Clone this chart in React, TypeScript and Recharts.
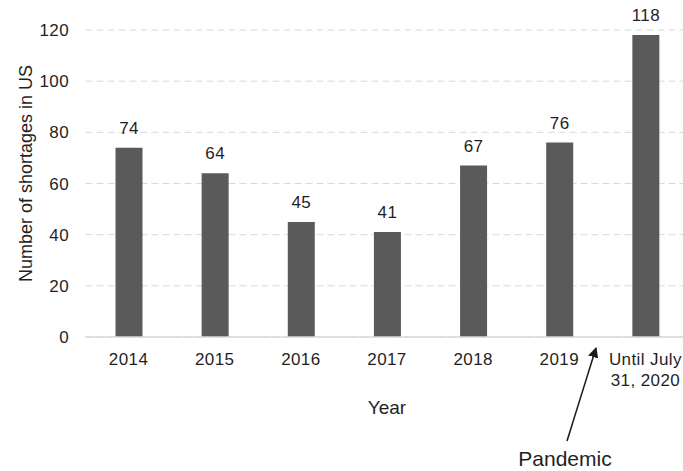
import { Bar, BarChart, CartesianGrid, LabelList, XAxis, YAxis, Label } from "recharts";

const years = ["2014", "2015", "2016", "2017", "2018", "2019", "Until July 31, 2020"];
const shortages = [74, 64, 45, 41, 67, 76, 118];
const yTicks = [0, 20, 40, 60, 80, 100, 120];

const data = years.map((year, i) => ({ year, shortages: shortages[i] }));

const FONT = "'Liberation Sans', Arial, sans-serif";
const TEXT = "#1f1f1f";

function YearTick({ x, y, payload }: any) {
  const value: string = payload.value;
  const cut = value.includes(",") ? value.lastIndexOf(" ", value.indexOf(",")) : -1;
  const lines = cut > 0 ? [value.slice(0, cut), value.slice(cut + 1)] : [value];
  return (
    <text x={x} y={y + 12} textAnchor="middle" fontFamily={FONT} fontSize={17} letterSpacing={0.4} fill={TEXT}>
      {lines.map((line, i) => (
        <tspan key={i} x={x} dy={i === 0 ? 0 : 21}>
          {line}
        </tspan>
      ))}
    </text>
  );
}

function YTitle({ viewBox }: any) {
  const cx = viewBox.x + 32;
  const cy = viewBox.y + viewBox.height / 2 - 10;
  return (
    <text
      x={cx}
      y={cy}
      transform={`rotate(-90, ${cx}, ${cy})`}
      textAnchor="middle"
      fontFamily={FONT}
      fontSize={18}
      fill={TEXT}
    >
      Number of shortages in US
    </text>
  );
}

export default function App() {
  return (
    <div style={{ position: "absolute", left: 0, top: 0, width: 683, height: 471, overflow: "hidden", background: "#fff" }}>
      <BarChart
        width={700}
        height={471}
        data={data}
        margin={{ top: 30, right: 11.5, bottom: 0, left: 0 }}
        barSize={27}
      >
        <CartesianGrid vertical={false} stroke="#d9d9d9" strokeDasharray="7 4" />
        <XAxis
          dataKey="year"
          height={134}
          axisLine={{ stroke: "#d9d9d9", strokeWidth: 1.5 }}
          tickLine={false}
          tickSize={0}
          tickMargin={16}
          tick={<YearTick />}
          interval={0}
        >
          <Label value="Year" position="insideTop" offset={64} fontFamily={FONT} fontSize={19} fill={TEXT} />
        </XAxis>
        <YAxis
          width={85.5}
          domain={[0, 120]}
          ticks={yTicks}
          axisLine={false}
          tickLine={false}
          tickSize={0}
          tickMargin={16.5}
          tick={{ fontFamily: FONT, fontSize: 17, fill: TEXT, letterSpacing: 0.4 }}
        >
          <Label content={<YTitle />} />
        </YAxis>
        <Bar dataKey="shortages" fill="#5a5a5a" isAnimationActive={false}>
          <LabelList dataKey="shortages" position="top" offset={14} fontFamily={FONT} fontSize={17} letterSpacing={0.4} fill={TEXT} />
        </Bar>
      </BarChart>
      <svg width={683} height={471} style={{ position: "absolute", left: 0, top: 0, pointerEvents: "none" }}>
        <defs>
          <marker id="arrow" viewBox="0 0 10 10" refX="9" refY="5" markerWidth="7" markerHeight="7" orient="auto">
            <path d="M0,0 L10,5 L0,10 z" fill="#1a1a1a" />
          </marker>
        </defs>
        <line x1={567} y1={441} x2={596} y2={348} stroke="#1a1a1a" strokeWidth={1.5} markerEnd="url(#arrow)" />
        <text x={565} y={466} textAnchor="middle" fontFamily={FONT} fontSize={21} fill={TEXT}>
          Pandemic
        </text>
      </svg>
    </div>
  );
}
